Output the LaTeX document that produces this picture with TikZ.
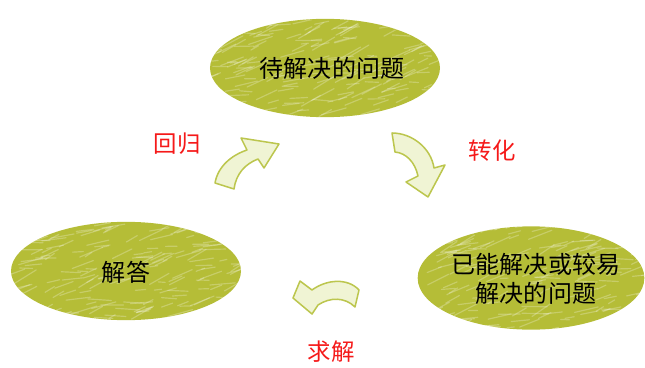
\documentclass[tikz,border=0pt]{standalone}
\usepackage{fontspec}
\setmainfont{Noto Sans CJK SC}
\usetikzlibrary{shapes.geometric}
\definecolor{blobgreen}{RGB}{181,189,55}
\definecolor{arrowline}{RGB}{188,198,78}
\definecolor{arrowfill}{RGB}{240,244,212}
\definecolor{labelred}{RGB}{245,25,25}
\tikzset{
  blob/.style={ellipse, fill=blobgreen, inner sep=0pt, minimum width=6.9cm, minimum height=2.95cm},
  blobtext/.style={font=\fontsize{20.5}{25}\selectfont, text=black, align=center},
  redlabel/.style={font=\fontsize{20}{24}\selectfont, text=labelred},
  blockarrow/.style={draw=arrowline, line width=1.3pt, fill=arrowfill, line join=round},
  scribble/.style={white, opacity=0.25, line width=1pt, line cap=round}
}
\newcommand{\texturize}[4]{% name, xr(px), yr(px), seed
  \begin{scope}
    \clip (#1) ellipse [x radius=#2*0.03cm, y radius=#3*0.03cm];
    \pgfmathsetseed{#4}
    \foreach \k in {1,...,190}{
      \pgfmathsetmacro\dx{rand*#2*0.03}
      \pgfmathsetmacro\dy{rand*#3*0.03}
      \pgfmathsetmacro\ln{0.2+rnd*0.6}
      \pgfmathsetmacro\an{15+rand*20}
      \draw[scribble] ([shift={(\dx cm,\dy cm)}]#1.center) -- ++(\an:\ln cm);
    }
  \end{scope}
}
\begin{document}
\begin{tikzpicture}[x=0.03cm, y=-0.03cm]
  \useasboundingbox (0,0) rectangle (645,368);
  % ellipses
  \node[blob] (top) at (325,68) {};
  \node[blob] (left) at (126,271) {};
  \node[blob, minimum width=6.8cm, minimum height=3.1cm] (right) at (531,278) {};
  \texturize{top}{115}{49}{3}
  \texturize{left}{115}{49}{11}
  \texturize{right}{113}{52}{21}
  \node[blobtext] (toptext) at (332,68) {待解决的问题};
  \node[blobtext] (lefttext) at (126,272) {解答};
  \node[blobtext] (righttext) at (536,279) {已能解决或较易\\解决的问题};
  % labels
  \node[redlabel] (lab1) at (177,144) {回归};
  \node[redlabel] (lab2) at (492,151) {转化};
  \node[redlabel] (lab3) at (331,352) {求解};
  % arrow 1 (upper left, pointing up-right)
  \draw[blockarrow] (215,183) .. controls (218,166) and (232,155) .. (247,150)
    -- (241,138) -- (279,144) -- (264,168) -- (258,159)
    .. controls (245,164) and (236,174) .. (234,189) -- cycle;
  % arrow 2 (upper right, pointing down)
  \draw[blockarrow] (392,133) .. controls (412,133) and (431,148) .. (434,168)
    -- (445,165) -- (428,197) -- (406,182) -- (418,176)
    .. controls (415,162) and (406,153) .. (395,152) -- cycle;
  % arrow 3 (bottom, pointing left)
  \draw[blockarrow] (359,290) .. controls (348,278) and (327,279) .. (312,290)
    -- (300,281) -- (293,298) -- (312,314) -- (318,305)
    .. controls (330,297) and (345,297) .. (355,307) -- cycle;
\end{tikzpicture}
\end{document}
